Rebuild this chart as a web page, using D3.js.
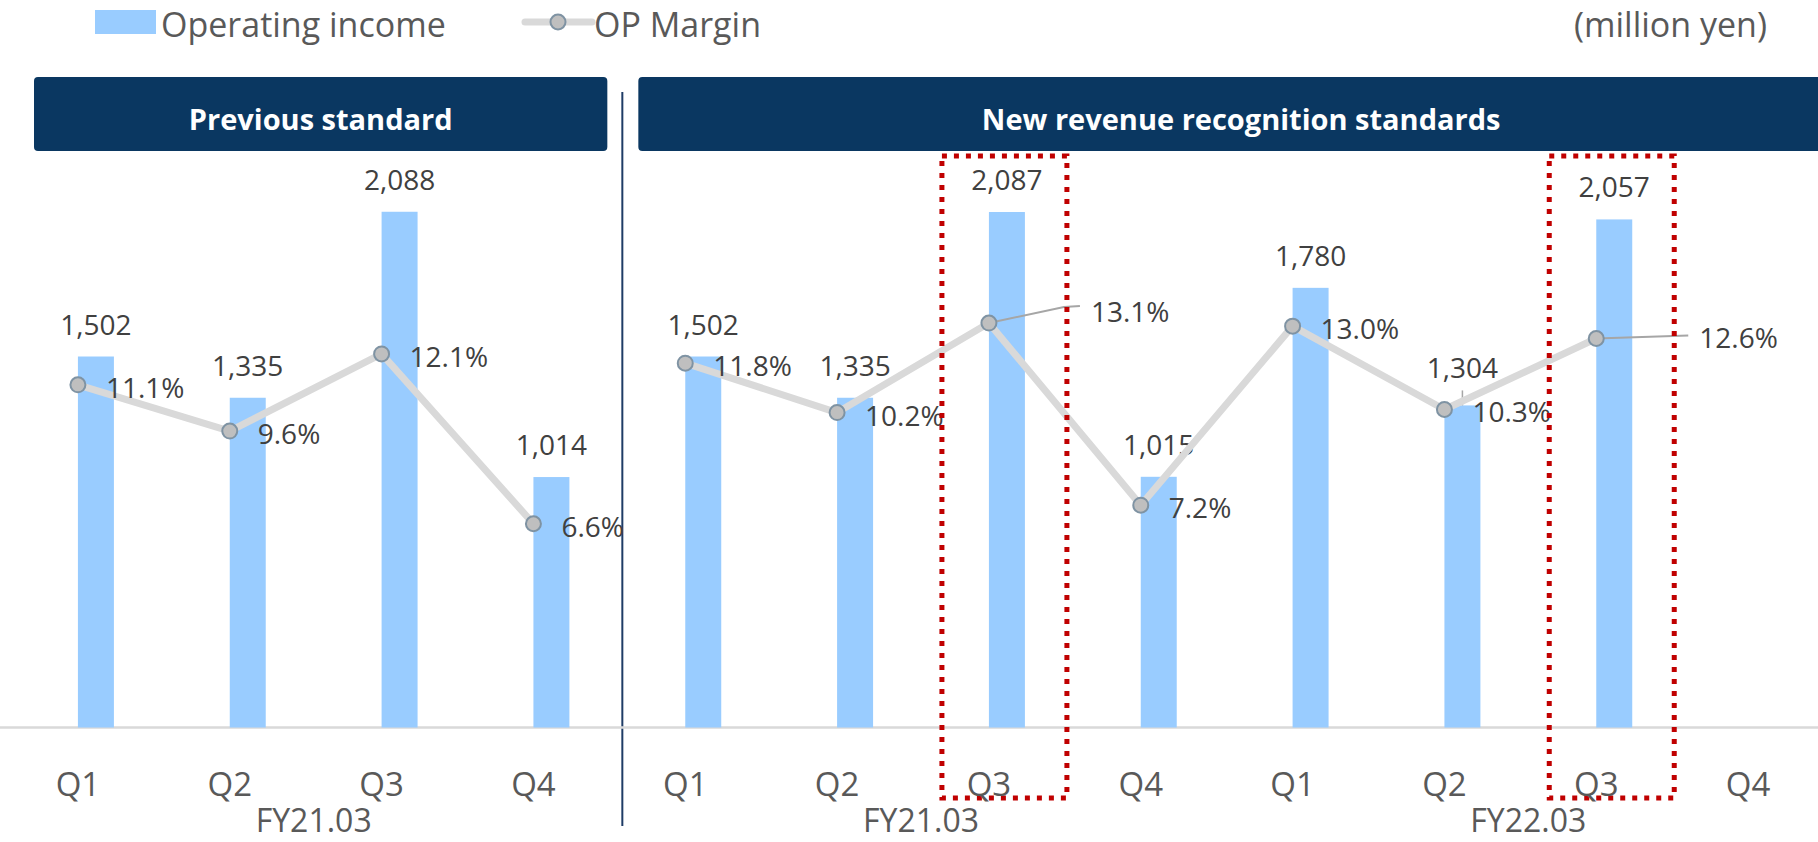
<!DOCTYPE html>
<html>
<head>
<meta charset="utf-8">
<script src="https://cdn.jsdelivr.net/npm/d3@7"></script>
<style>
  body { margin: 0; background: #fff; }
  svg text { font-family: "Open Sans", "Noto Sans", sans-serif; }
</style>
</head>
<body>
<svg id="chart"></svg>
<script>
const quarters = ["Q1", "Q2", "Q3", "Q4"];
const fiscalYears = ["FY21.03", "FY21.03", "FY22.03"];
const standards = ["Previous standard", "New revenue recognition standards"];

// previous standard, FY21.03
const prevIncome = [1502, 1335, 2088, 1014];
const prevMargin = [11.1, 9.6, 12.1, 6.6];

// new standard, FY21.03 + FY22.03 (FY22.03 Q4 not yet reported)
const newIncome = [1502, 1335, 2087, 1015, 1780, 1304, 2057, null];
const newMargin = [11.8, 10.2, 13.1, 7.2, 13.0, 10.3, 12.6, null];

const width = 1818;
const height = 842;

const svg = d3.select("#chart")
  .attr("width", width)
  .attr("height", height);

// one slot per quarter, across all three fiscal groups
const slots = [];
fiscalYears.forEach((fy, g) => {
  quarters.forEach(q => slots.push({ id: `${g}-${q}`, group: g, fy: fy, q: q }));
});

const prevRows = slots.slice(0, 4).map((s, i) => ({ ...s, income: prevIncome[i], margin: prevMargin[i] }));
const newRows = slots.slice(4).map((s, i) => ({ ...s, income: newIncome[i], margin: newMargin[i] }));

const x = d3.scaleBand()
  .domain(slots.map(d => d.id))
  .range([20, 1842])
  .paddingInner(0.763)
  .paddingOuter(0.3815);
const bw = x.bandwidth();

const y = d3.scaleLinear().domain([0, 2500]).range([727.5, 110]);
const yPct = d3.scaleLinear().domain([0, 20]).range([727.5, 110]);

const boundary = x(slots[4].id) - x.step() * 0.3815;

// legend
svg.append("rect")
  .attr("x", 95).attr("y", 10).attr("width", 61).attr("height", 24)
  .attr("fill", "#99ccff");
svg.append("text")
  .attr("x", 161).attr("y", 36.5)
  .attr("font-size", 34).attr("fill", "#595959")
  .text("Operating income");
svg.append("line")
  .attr("x1", 525).attr("x2", 592).attr("y1", 22).attr("y2", 22)
  .attr("stroke", "#d9d9d9").attr("stroke-width", 7).attr("stroke-linecap", "round");
svg.append("circle")
  .attr("cx", 558).attr("cy", 22).attr("r", 7.5)
  .attr("fill", "#bfbfbf").attr("stroke", "#7f93a3").attr("stroke-width", 2);
svg.append("text")
  .attr("x", 594).attr("y", 36.5)
  .attr("font-size", 34).attr("fill", "#595959")
  .text("OP Margin");
svg.append("text")
  .attr("x", 1767).attr("y", 36.5)
  .attr("text-anchor", "end")
  .attr("font-size", 34).attr("fill", "#595959")
  .text("(million yen)");

// header bands
const headers = [
  { label: standards[0], x0: 34, x1: boundary - 20 },
  { label: standards[1], x0: boundary + 11, x1: 1844 }
];
const hdr = svg.selectAll(".hdr")
  .data(headers)
  .enter()
  .append("g")
  .attr("class", "hdr");
hdr.append("rect")
  .attr("x", d => d.x0).attr("y", 77)
  .attr("width", d => d.x1 - d.x0).attr("height", 74)
  .attr("rx", 4)
  .attr("fill", "#0a3761");
hdr.append("text")
  .attr("x", d => (d.x0 + d.x1) / 2).attr("y", 129.5)
  .attr("text-anchor", "middle")
  .attr("font-size", 29).attr("font-weight", "bold")
  .attr("fill", "#ffffff")
  .text(d => d.label);

// divider
svg.append("line")
  .attr("x1", boundary - 5).attr("x2", boundary - 5)
  .attr("y1", 92).attr("y2", 826)
  .attr("stroke", "#1f3c66").attr("stroke-width", 2);

// axis baseline
svg.append("line")
  .attr("x1", 0).attr("x2", width)
  .attr("y1", y(0)).attr("y2", y(0))
  .attr("stroke", "#d9d9d9").attr("stroke-width", 2.5);

// bars
const allRows = prevRows.concat(newRows).filter(d => d.income != null);
svg.selectAll(".bar")
  .data(allRows)
  .enter()
  .append("rect")
  .attr("class", "bar")
  .attr("x", d => x(d.id))
  .attr("y", d => y(d.income))
  .attr("width", bw)
  .attr("height", d => y(0) - y(d.income))
  .attr("fill", "#99ccff");

// value labels (one label lifted with a leader in FY22.03 Q2)
const valueLift = { "2-Q2": 5 };
svg.selectAll(".val")
  .data(allRows)
  .enter()
  .append("text")
  .attr("class", "val")
  .attr("x", d => x(d.id) + bw / 2)
  .attr("y", d => y(d.income) - 22 - (valueLift[d.id] || 0))
  .attr("text-anchor", "middle")
  .attr("font-size", 28).attr("fill", "#404040")
  .text(d => d3.format(",")(d.income));
svg.append("line")
  .attr("x1", x("2-Q2") + bw / 2).attr("x2", x("2-Q2") + bw / 2)
  .attr("y1", y(1304) - 15).attr("y2", y(1304))
  .attr("stroke", "#a6a6a6").attr("stroke-width", 1.5);

// margin lines
const line = d3.line()
  .x(d => x(d.id))
  .y(d => yPct(d.margin));

[prevRows, newRows.filter(d => d.margin != null)].forEach(rows => {
  svg.append("path")
    .datum(rows)
    .attr("d", line)
    .attr("fill", "none")
    .attr("stroke", "#d9d9d9")
    .attr("stroke-width", 7)
    .attr("stroke-linejoin", "round");
});

const marginRows = prevRows.concat(newRows).filter(d => d.margin != null);

// labels pulled out to the right with leader lines
const pctNudge = {
  "1-Q3": { dx: 102, dy: -1, leader: [[75, -16], [91, -17]] },
  "2-Q3": { dx: 103, dy: 10, leader: [[92, -3]] }
};
Object.keys(pctNudge).forEach(id => {
  const r = marginRows.find(d => d.id === id);
  const px = x(id), py = yPct(r.margin);
  const pts = [[px, py]].concat(pctNudge[id].leader.map(p => [px + p[0], py + p[1]]));
  svg.append("path")
    .attr("d", d3.line()(pts))
    .attr("fill", "none")
    .attr("stroke", "#a6a6a6")
    .attr("stroke-width", 2);
});

svg.selectAll(".marker")
  .data(marginRows)
  .enter()
  .append("circle")
  .attr("class", "marker")
  .attr("cx", d => x(d.id))
  .attr("cy", d => yPct(d.margin))
  .attr("r", 7.5)
  .attr("fill", "#bfbfbf")
  .attr("stroke", "#7f93a3")
  .attr("stroke-width", 2);

svg.selectAll(".pct")
  .data(marginRows)
  .enter()
  .append("text")
  .attr("class", "pct")
  .attr("x", d => x(d.id) + (pctNudge[d.id] ? pctNudge[d.id].dx : 28))
  .attr("y", d => yPct(d.margin) + (pctNudge[d.id] ? pctNudge[d.id].dy : 13))
  .attr("font-size", 28).attr("fill", "#404040")
  .text(d => d.margin.toFixed(1) + "%");

// highlight boxes around the Q3 comparisons
["1-Q3", "2-Q3"].forEach(id => {
  svg.append("rect")
    .attr("x", x(id) - 47).attr("y", 156)
    .attr("width", bw + 89).attr("height", 642)
    .attr("fill", "none")
    .attr("stroke", "#c00000")
    .attr("stroke-width", 5)
    .attr("stroke-dasharray", "5 7");
});

// category axis: quarters and fiscal years
svg.selectAll(".qlab")
  .data(slots)
  .enter()
  .append("text")
  .attr("class", "qlab")
  .attr("x", d => x(d.id))
  .attr("y", 796)
  .attr("text-anchor", "middle")
  .attr("font-size", 33).attr("fill", "#595959")
  .text(d => d.q);

svg.selectAll(".fylab")
  .data(fiscalYears)
  .enter()
  .append("text")
  .attr("class", "fylab")
  .attr("x", (d, g) => d3.mean(slots.filter(s => s.group === g), s => x(s.id)) + 8)
  .attr("y", 832)
  .attr("text-anchor", "middle")
  .attr("font-size", 32).attr("fill", "#595959")
  .text(d => d);
</script>
</body>
</html>
